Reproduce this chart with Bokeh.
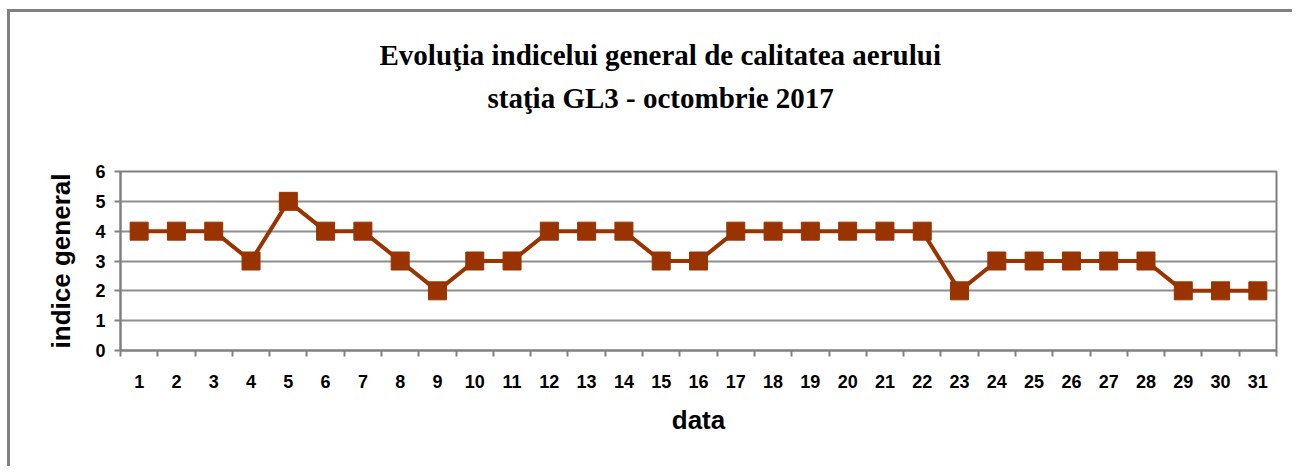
from bokeh.plotting import figure
from bokeh.models import FixedTicker, Title, Range1d
from bokeh.embed import file_html
from bokeh.resources import INLINE

days = list(range(1, 32))
indice = [4, 4, 4, 3, 5, 4, 4, 3, 2, 3, 3, 4, 4, 4, 3, 3, 4, 4, 4, 4, 4, 4, 2, 3, 3, 3, 3, 3, 2, 2, 2]
y_ticks = [0, 1, 2, 3, 4, 5, 6]
title_line1 = "Evoluţia indicelui general de calitatea aerului"
title_line2 = "staţia GL3 - octombrie 2017"
x_label = "data"
y_label = "indice general"

GRAY = "#808080"
BROWN = "#993300"
SANS = "Liberation Sans"
SERIF = "Liberation Serif"

p = figure(width=1285, height=457,
           x_range=Range1d(0.5, 31.5), y_range=Range1d(0, 6),
           output_backend="svg", toolbar_location=None,
           min_border_left=113, min_border_right=16,
           min_border_top=162, min_border_bottom=116)
p.margin = (9, 0, 0, 7)
p.border_fill_alpha = 0
p.background_fill_color = "white"
p.styles = {"box-shadow": "inset 3px 3px 0 0 #808080"}

p.outline_line_color = GRAY
p.outline_line_width = 2

title_style = dict(text_font=SERIF, text_font_style="bold", text_font_size="29px",
                   text_color="black")
# stacking from the frame outward: blank spacer, second line, then p.title (first line)
p.title = Title(text=title_line1, align="left", offset=259, standoff=17, **title_style)
p.add_layout(Title(text=" ", align="left", offset=0, standoff=24, **title_style), "above")
p.add_layout(Title(text=title_line2, align="left", offset=367, standoff=0, **title_style), "above")

# x axis
boundaries = [d - 0.5 for d in days] + [days[-1] + 0.5]
p.xaxis.ticker = FixedTicker(ticks=days, minor_ticks=boundaries)
p.xaxis.major_tick_out = 6
p.xaxis.major_tick_in = 0
p.xaxis.major_tick_line_alpha = 0
p.xaxis.minor_tick_out = 6
p.xaxis.minor_tick_in = 0
p.xaxis.minor_tick_line_color = GRAY
p.xaxis.minor_tick_line_width = 2
p.xaxis.axis_line_color = GRAY
p.xaxis.axis_line_width = 2
p.xaxis.major_label_text_font = SANS
p.xaxis.major_label_text_font_style = "bold"
p.xaxis.major_label_text_font_size = "18px"
p.xaxis.major_label_text_color = "black"
p.xaxis.major_label_standoff = 18
p.xaxis.axis_label = x_label
p.xaxis.axis_label_text_font = SANS
p.xaxis.axis_label_text_font_style = "bold"
p.xaxis.axis_label_text_font_size = "26px"
p.xaxis.axis_label_text_color = "black"
p.xaxis.axis_label_standoff = 14

# y axis
p.yaxis.ticker = FixedTicker(ticks=y_ticks, minor_ticks=[])
p.yaxis.major_tick_out = 6
p.yaxis.major_tick_in = 0
p.yaxis.major_tick_line_color = GRAY
p.yaxis.major_tick_line_width = 2
p.yaxis.minor_tick_line_alpha = 0
p.yaxis.axis_line_color = GRAY
p.yaxis.axis_line_width = 2
p.yaxis.major_label_text_font = SANS
p.yaxis.major_label_text_font_style = "bold"
p.yaxis.major_label_text_font_size = "18px"
p.yaxis.major_label_text_color = "black"
p.yaxis.major_label_standoff = 9
p.yaxis.axis_label = y_label
p.yaxis.axis_label_text_font = SANS
p.yaxis.axis_label_text_font_style = "bold"
p.yaxis.axis_label_text_font_size = "26px"
p.yaxis.axis_label_text_color = "black"
p.yaxis.axis_label_standoff = 16

p.xgrid.visible = False
p.ygrid.ticker = FixedTicker(ticks=y_ticks)
p.ygrid.grid_line_color = "#8e8e8e"
p.ygrid.grid_line_width = 2

p.line(days, indice, line_color=BROWN, line_width=4)
p.scatter(days, indice, marker="square", size=18, fill_color=BROWN, line_color=BROWN)

open("out.html", "w").write(file_html(p, INLINE))
